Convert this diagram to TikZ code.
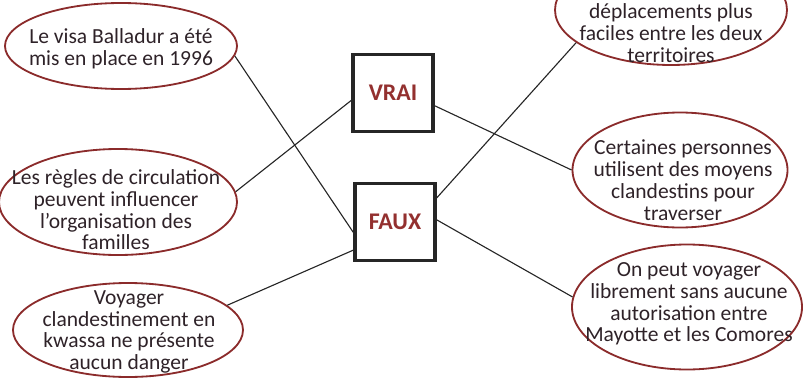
\documentclass[tikz,border=0pt]{standalone}
\usepackage{fontspec}
\setmainfont{Carlito}
\usetikzlibrary{shapes.geometric}
\definecolor{rim}{HTML}{8B2B2B}
\definecolor{ink}{HTML}{2E2228}
\definecolor{tag}{HTML}{93302F}
\begin{document}
\begin{tikzpicture}[bubble/.style={ellipse,draw=rim,line width=1.3pt,inner sep=0pt},
    txt/.style={align=center,text=ink,font=\fontsize{15.3}{15.5}\selectfont,inner sep=0pt},
    answer/.style={draw=black!85,line width=2.4pt,minimum width=2cm,minimum height=1.925cm,text=tag,font=\fontsize{17}{18}\selectfont\bfseries},
    link/.style={draw=black!85,line width=0.8pt}]
            \clip (0,0) rectangle (20.075,9.575);
            \node[bubble,minimum width=5.8cm,minimum height=2.15cm] (visa) at (3.025,8.425) {};
            \node[bubble,minimum width=5.95cm,minimum height=2.65cm] (regles) at (2.95,4.525) {};
            \node[bubble,minimum width=5.75cm,minimum height=2.35cm] (voyager) at (3.2,1.325) {};
            \node[bubble,minimum width=5.8cm,minimum height=2.75cm] (deplac) at (16.775,9.325) {};
            \node[bubble,minimum width=5.375cm,minimum height=2.875cm] (certaines) at (17.0,5.325) {};
            \node[bubble,minimum width=5.75cm,minimum height=3.125cm] (onpeut) at (17.175,1.9) {};

            \node[txt] (visatxt) at (3.025,8.35) {Le visa Balladur a été\\mis en place en 1996};
            \node[txt] (reglestxt) at (2.9,4.33) {Les règles de circulation\\peuvent influencer\\l’organisation des\\familles};
            \node[txt] (voyagertxt) at (3.225,1.275) {Voyager\\clandestinement en\\kwassa ne présente\\aucun danger};
            \node[txt] (deplactxt) at (16.775,8.75) {déplacements plus\\faciles entre les deux\\territoires};
            \node[txt] (certainestxt) at (17.075,5.075) {Certaines personnes\\utilisent des moyens\\clandestins pour\\traverser};
            \node[txt] (onpeuttxt) at (17.225,1.975) {On peut voyager\\librement sans aucune\\autorisation entre\\Mayotte et les Comores};

            \node[answer] (vrai) at (9.825,7.25) {VRAI};
            \node[answer] (faux) at (9.875,4.025) {FAUX};

            \draw[link] (visa.-5) -- (faux.194);
            \draw[link] (regles.5) -- (vrai.190);
            \draw[link] (voyager.14) -- (faux.214);
            \draw[link] (vrai.-17) -- (certaines.west);
            \draw[link] (faux.3) -- (onpeut.175);
            \draw[link] (faux.30) -- (deplac.199);
          \end{tikzpicture}
\end{document}
